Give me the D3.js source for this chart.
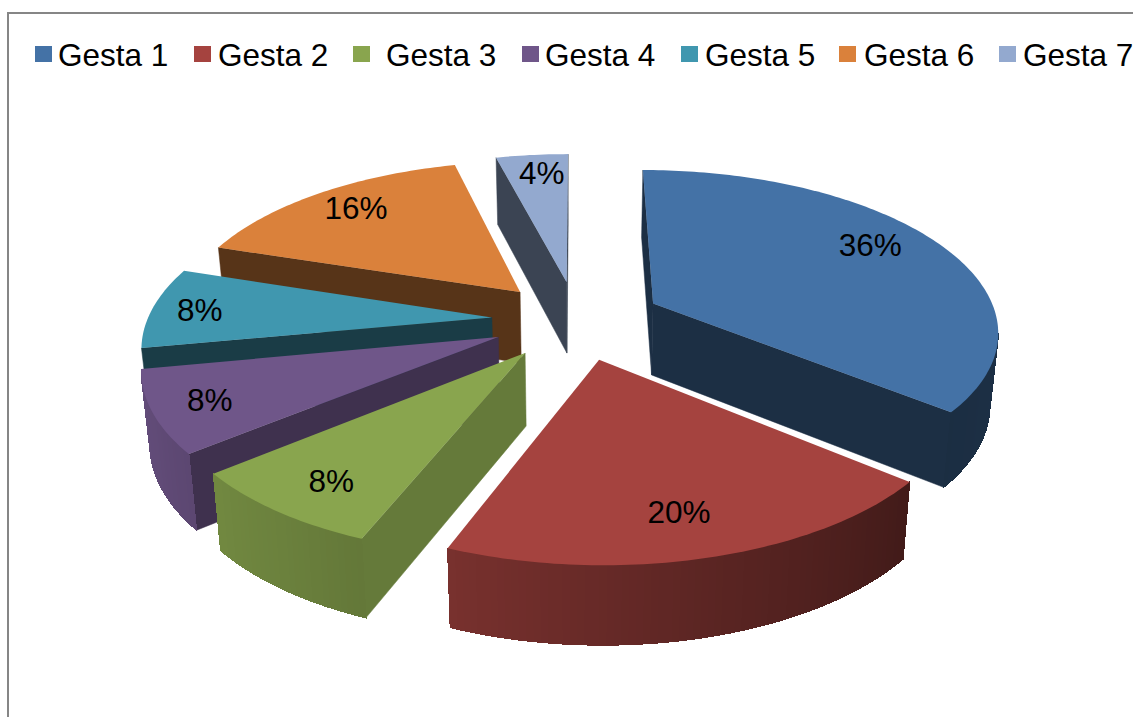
<!DOCTYPE html>
<html>
<head>
<meta charset="utf-8">
<script src="https://cdn.jsdelivr.net/npm/d3@7/dist/d3.min.js"></script>
<style>
html,body{margin:0;padding:0;background:#fff;}
svg{display:block;}
text{font-family:"Liberation Sans",Arial,sans-serif;fill:#000;}
</style>
</head>
<body>
<svg id="chart" width="1133" height="717"></svg>
<script>
// ---- data ----
const categories = ["Gesta 1","Gesta 2","Gesta 3","Gesta 4","Gesta 5","Gesta 6","Gesta 7"];
const percents = [36,20,8,8,8,16,4];

// ---- styles ----
const topColors = ["#4472A6","#A5433F","#89A54E","#6F5689","#4097AF","#DA813B","#93A9CF"];
const faceShade = [0.41,0.40,0.74,0.57,0.40,0.40,0.40];
const paintOrder = [6,5,4,3,2,0,1];

// ---- layout ----
const width = 1133, height = 717;
const view = {cx:577, cy:320, sx:85.5, sy:39.5, persp:0.039, radius:4.03, depth:72, taper:0.98};
const labelDistance = [3.23,3.21,3.30,3.40,3.46,3.32,3.37];
const labelTurn = [-4.8,0.8,-1,0,-0.6,1.2,1.1];
const legendTextX = [58,218,386,545,705,864,1023];
const legendSwatchX = [35,194,353,522,681,839,999];

const svg = d3.select("#chart");
svg.append("rect").attr("width",width).attr("height",height).attr("fill","#fff");
svg.append("path")
  .attr("d",d3.line()([[8,717],[8,13],[1133,13]]))
  .attr("fill","none").attr("stroke","#868686").attr("stroke-width",2);

// plane -> screen projection with perspective
function project(X,Y,lower){
  const s = 1/(1-view.persp*Y);
  const x = view.cx+view.sx*X*s, y = view.cy+view.sy*Y*s;
  if(!lower) return [x,y];
  return [view.cx+(x-view.cx)*view.taper, y+view.depth*(1+(s-1)*0.45)];
}
const pieLayout = d3.pie().sort(null).value(d=>d)(percents);
const deg = 180/Math.PI;
const wallShade = d3.scaleLinear()
  .domain([100,130,165,200,215,245,270])
  .range([0.42,0.40,0.55,0.72,0.78,0.87,0.9]).clamp(true);

function polarPoint(slice,theta,r,lower){
  const mid=(slice.startAngle+slice.endAngle)/2;
  return project(Math.sin(mid)+r*Math.sin(theta), -Math.cos(mid)-r*Math.cos(theta), lower);
}
function side(a,b,c){return (b[0]-a[0])*(c[1]-a[1])-(b[1]-a[1])*(c[0]-a[0]);}
function facesViewer(a,b,inner){
  const down=[a[0],a[1]+10];
  return side(a,b,inner)*side(a,b,down)<0;
}
const line=d3.line();

const pies=svg.append("g");
paintOrder.forEach(i=>{
  const sl=pieLayout[i], g=pies.append("g");
  const R=view.radius, color=d3.color(topColors[i]);
  const mid=(sl.startAngle+sl.endAngle)/2;
  const apex=polarPoint(sl,0,0,false), apexLow=polarPoint(sl,0,0,true);
  const steps=d3.range(0,Math.ceil((sl.endAngle-sl.startAngle)*deg)+1);
  const angles=steps.map(k=>sl.startAngle+(sl.endAngle-sl.startAngle)*k/(steps.length-1));
  const rim=angles.map(t=>polarPoint(sl,t,R,false));
  const rimLow=angles.map(t=>polarPoint(sl,t,R,true));
  const dark=f=>{const c=d3.rgb(color);return d3.rgb(c.r*f,c.g*f,c.b*f).formatHex();};
  const midRim=polarPoint(sl,mid,R,false);
  // cut faces
  [0,angles.length-1].forEach(k=>{
    if(facesViewer(apex,rim[k],midRim)){
      const f=dark(faceShade[i]);
      g.append("path").attr("d",line([apex,rim[k],rimLow[k],apexLow])+"Z")
        .attr("fill",f).attr("stroke",f).attr("stroke-width",0.5);
    }
  });
  // outer wall bands
  for(let k=0;k<angles.length-1;k++){
    if(facesViewer(rim[k],rim[k+1],apex)){
      const f=dark(wallShade((angles[k]+angles[k+1])/2*deg));
      g.append("path").attr("d",line([rim[k],rim[k+1],rimLow[k+1],rimLow[k]])+"Z")
        .attr("fill",f).attr("stroke",f).attr("stroke-width",1.2)
        .attr("shape-rendering","crispEdges");
    }
  }
  // top
  g.append("path").attr("d",line([apex,...rim])+"Z").attr("fill",topColors[i]);
});

// data labels
const pct=d3.format(".0%");
svg.append("g").selectAll("text").data(pieLayout).join("text")
  .attr("text-anchor","middle").attr("dominant-baseline","central")
  .attr("font-size",31.5)
  .attr("x",(d,i)=>polarPoint(d,(d.startAngle+d.endAngle)/2+labelTurn[i]/deg,labelDistance[i],false)[0])
  .attr("y",(d,i)=>polarPoint(d,(d.startAngle+d.endAngle)/2+labelTurn[i]/deg,labelDistance[i],false)[1])
  .text(d=>pct(d.value/d3.sum(percents)));

// legend
const legend=svg.append("g");
legend.selectAll("rect").data(categories).join("rect")
  .attr("x",(d,i)=>legendSwatchX[i]).attr("y",46).attr("width",17).attr("height",16)
  .attr("fill",(d,i)=>topColors[i]);
legend.selectAll("text").data(categories).join("text")
  .attr("x",(d,i)=>legendTextX[i]).attr("y",66).attr("font-size",31.5).text(d=>d);
</script>
</body>
</html>
